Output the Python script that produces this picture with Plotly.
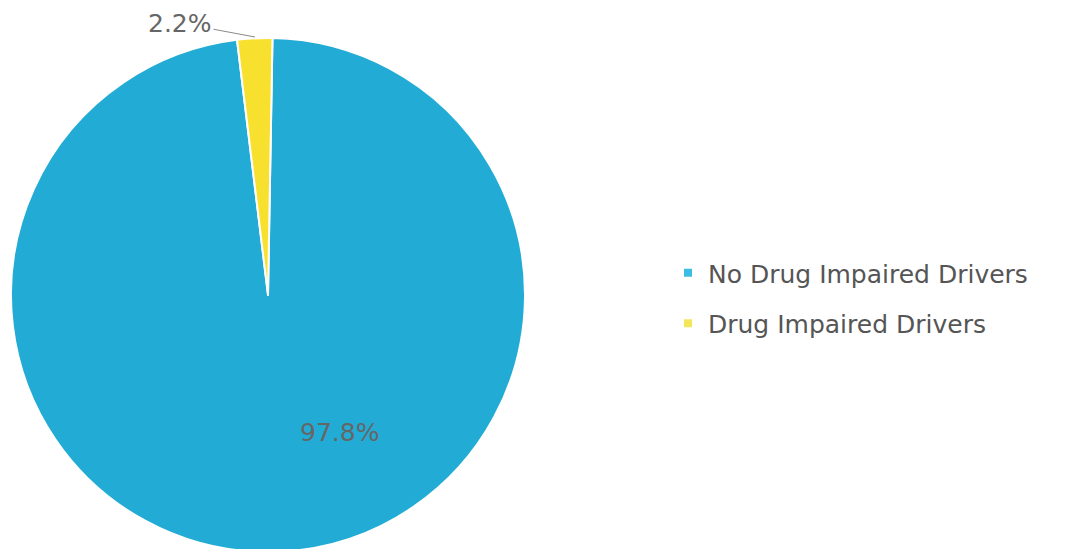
import plotly.graph_objects as go

labels = ["No Drug Impaired Drivers", "Drug Impaired Drivers"]
values = [97.8, 2.2]
colors = ["#22acd5", "#f7e02e"]
legend_colors = ["#3bbde4", "#f3e65a"]

W, H = 1072, 549
# figure-pixel layout (page has an 8px body margin)
cx, cy, r = 260, 287, 257

fig = go.Figure()
fig.add_trace(go.Pie(
    labels=labels, values=values, sort=False, direction="clockwise", rotation=1,
    marker=dict(colors=colors, line=dict(color="white", width=2)),
    textinfo="none", hoverinfo="label+percent", showlegend=False,
    domain=dict(x=[(cx - r) / W, (cx + r) / W], y=[1 - (cy + r) / H, 1 - (cy - r) / H]),
))

# legend-only entries
for lab, col in zip(labels, legend_colors):
    fig.add_trace(go.Scatter(
        x=[None], y=[None], mode="markers", name=lab, legendgroup=lab,
        marker=dict(symbol="square", size=8, color=col),
    ))

font_family = "DejaVu Sans, Open Sans, sans-serif"
fig.add_annotation(x=331 / W, y=1 - 424 / H, xref="paper", yref="paper",
                   xanchor="center", yanchor="middle",
                   text=f"{values[0]}%", showarrow=False,
                   font=dict(family=font_family, size=25, color="#666666"))
fig.add_annotation(x=247 / W, y=1 - 29 / H, xref="paper", yref="paper",
                   text=f"{values[1]}%", showarrow=True, arrowhead=0, arrowwidth=1,
                   arrowcolor="#8a8a8a", ax=-75, ay=-14, standoff=0,
                   font=dict(family=font_family, size=25, color="#666666"))

fig.update_layout(
    width=W, height=H, margin=dict(l=0, r=0, t=0, b=0),
    paper_bgcolor="white", plot_bgcolor="white",
    xaxis=dict(visible=False), yaxis=dict(visible=False),
    showlegend=True,
    legend=dict(x=660 / W, y=1 - 242 / H, xanchor="left", yanchor="top",
                font=dict(family=font_family, size=25, color="#555555"),
                tracegroupgap=15, bgcolor="rgba(0,0,0,0)"),
)

fig.write_html("out.html")
